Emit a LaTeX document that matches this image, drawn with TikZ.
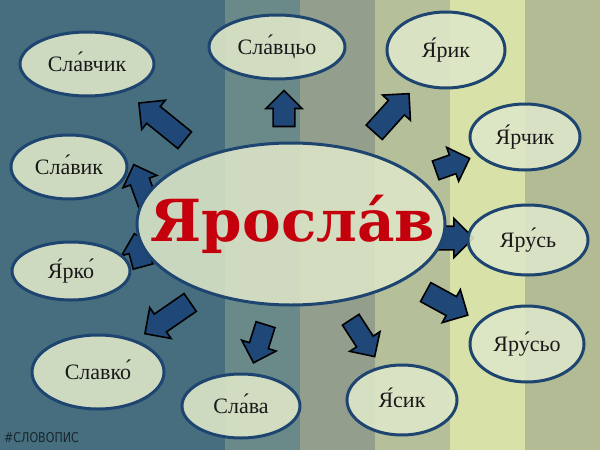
\documentclass[tikz,border=0pt]{standalone}
\usepackage{fontspec}
\setmainfont{Liberation Serif}
\newfontfamily\bigfont{DejaVu Serif}
\newfontfamily\wmfont{DejaVu Sans}
\usetikzlibrary{shapes.geometric,shapes.arrows}
\definecolor{st1}{HTML}{466E7E}
\definecolor{st2}{HTML}{6A8A8A}
\definecolor{st3}{HTML}{939F8C}
\definecolor{st4}{HTML}{B5BF9A}
\definecolor{st5}{HTML}{D8E2A8}
\definecolor{st6}{HTML}{B3BB95}
\definecolor{ellfill}{HTML}{DDE6C8}
\definecolor{ellline}{HTML}{1E4470}
\definecolor{arrfill}{HTML}{1F4777}
\definecolor{redtxt}{HTML}{C4000C}
\definecolor{wm}{HTML}{18262E}
\tikzset{
  leaf/.style={ellipse, draw=ellline, line width=3pt, fill=ellfill, fill opacity=0.9, text opacity=1,
    inner sep=0pt, font=\fontsize{22}{24}\selectfont, text=black!90, text height=15pt, text depth=0pt},
  blockarrow/.style={single arrow, draw=black, line width=1.6pt, fill=arrfill,
    inner sep=10pt, single arrow head extend=8pt, minimum width=36pt},
}
\begin{document}
\begin{tikzpicture}[x=1pt,y=-1pt]
\useasboundingbox (0,0) rectangle (600,450);
% stripes
\fill[st1] (0,0) rectangle (225,450);
\fill[st2] (225,0) rectangle (300,450);
\fill[st3] (300,0) rectangle (375,450);
\fill[st4] (375,0) rectangle (450,450);
\fill[st5] (450,0) rectangle (525,450);
\fill[st6] (525,0) rectangle (600,450);
% arrows (under the centre ellipse)
\node[blockarrow, minimum height=59pt, rotate=141] (a1) at (166,125) {};
\node[blockarrow, minimum height=36pt, rotate=90, inner sep=10pt, single arrow head extend=7pt] (a2) at (284,114) {};
\node[blockarrow, minimum height=44pt, rotate=110, inner sep=8pt, single arrow head extend=7pt] (a3) at (143,190) {};
\node[blockarrow, minimum height=34pt, rotate=105, inner sep=7pt, single arrow head extend=6pt] (a4) at (140,255) {};
\node[blockarrow, minimum height=55pt, rotate=214.6] (a5) at (172,315) {};
\node[blockarrow, minimum height=40pt, rotate=-107.5, inner sep=9pt] (a6) at (261,339) {};
\node[blockarrow, minimum height=44pt, rotate=-57, inner sep=9pt] (a7) at (360,334) {};
\node[blockarrow, minimum height=48pt, rotate=-28.7, inner sep=10pt] (a8) at (442,301) {};
\node[blockarrow, minimum height=30pt, rotate=0, inner sep=11pt] (a9) at (450,238) {};
\node[blockarrow, minimum height=36pt, rotate=19.4, inner sep=9pt] (a10) at (448,166) {};
\node[blockarrow, minimum height=52pt, rotate=48] (a11) at (388,117) {};
% centre ellipse: opaque fill, faint stripes through it
\node[ellipse, fill=ellfill, minimum width=308pt, minimum height=162pt, inner sep=0pt] (c) at (291,224) {};
\begin{scope}
  \clip (291,224) ellipse [x radius=154pt, y radius=81pt];
  \begin{scope}[opacity=0.12]
  \fill[st1] (0,0) rectangle (225,450);
  \fill[st2] (225,0) rectangle (300,450);
  \fill[st3] (300,0) rectangle (375,450);
  \fill[st4] (375,0) rectangle (450,450);
  \fill[st5] (450,0) rectangle (525,450);
  \fill[st6] (525,0) rectangle (600,450);
  \end{scope}
\end{scope}
\draw[ellline, line width=3pt] (291,224) ellipse [x radius=154pt, y radius=81pt];
\node[anchor=base, inner sep=0pt, font=\bigfont\bfseries\fontsize{58}{60}\selectfont, text=redtxt] (ct) at (293,241) {Яросла́в};
% leaves
\node[leaf, minimum width=134pt, minimum height=64pt] (n1) at (87,64) {Сла́вчик};
\node[leaf, minimum width=136pt, minimum height=64pt] (n2) at (277,47) {Сла́вцьо};
\node[leaf, minimum width=118pt, minimum height=76pt] (n3) at (446,50) {Я́рик};
\node[leaf, minimum width=110pt, minimum height=66pt] (n4) at (525,137) {Я́рчик};
\node[leaf, minimum width=116pt, minimum height=64pt] (n5) at (69,167) {Сла́вик};
\node[leaf, minimum width=120pt, minimum height=70pt] (n6) at (528,240) {Яру́сь};
\node[leaf, minimum width=118pt, minimum height=58pt] (n7) at (71,271) {Я́рко́};
\node[leaf, minimum width=114pt, minimum height=76pt] (n8) at (527,344) {Яру́сьо};
\node[leaf, minimum width=132pt, minimum height=74pt] (n9) at (98,372) {Славко́};
\node[leaf, minimum width=118pt, minimum height=64pt] (n10) at (241,406) {Сла́ва};
\node[leaf, minimum width=110pt, minimum height=70pt] (n11) at (402,400) {Я́сик};
% watermark
\node[anchor=west, inner sep=0pt, text=wm, font=\wmfont\fontsize{13.5}{14}\selectfont] (wm) at (4,438) {\scalebox{0.82}[1]{\#СЛОВОПИС}};
\end{tikzpicture}
\end{document}
